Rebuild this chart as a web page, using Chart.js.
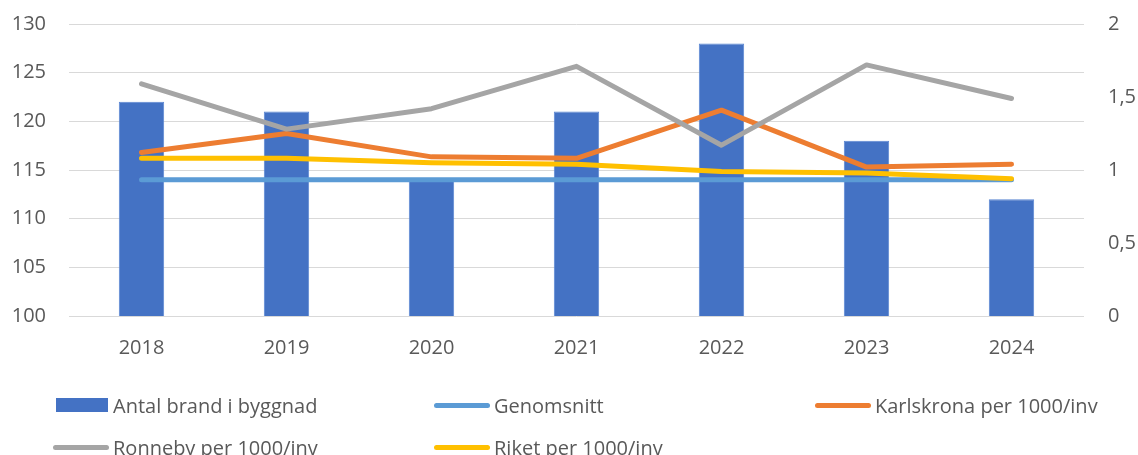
<!DOCTYPE html>
<html>
<head>
<meta charset="utf-8">
<script src="https://cdn.jsdelivr.net/npm/chart.js@4/dist/chart.umd.min.js"></script>
<style>
  html, body { margin: 0; padding: 0; background: #fff; }
  #wrap { position: relative; width: 1138px; height: 455px; overflow: hidden; }
  #box { position: absolute; left: 0; top: 0; width: 1138px; height: 370px; }
  #legend { position: absolute; left: 0; top: 0; width: 1138px; height: 455px; pointer-events: none;
            font-family: "Open Sans", sans-serif; font-size: 20px; color: #595959; }
  .item { position: absolute; display: flex; align-items: center; height: 26px; white-space: nowrap; }
  .mark { display: inline-block; width: 56px; margin-right: 4px; }
  .mark.line { height: 5px; border-radius: 3px; }
  .mark.bar { height: 14px; width: 52px; margin-left: 0; margin-right: 5px; }
</style>
</head>
<body>
<div id="wrap">
  <div id="box"><canvas id="c"></canvas></div>
  <div id="legend"></div>
</div>
<script>
// Years on the category axis
const years = ['2018', '2019', '2020', '2021', '2022', '2023', '2024'];

// Number of building fires (left axis)
const antalBrand = [122, 121, 114, 121, 128, 118, 112];
// Average level (left axis)
const genomsnitt = [114, 114, 114, 114, 114, 114, 114];

// Rates per 1000 inhabitants (right axis)
const karlskrona = [1.12, 1.25, 1.09, 1.08, 1.41, 1.02, 1.04];
const ronneby    = [1.59, 1.28, 1.42, 1.71, 1.17, 1.72, 1.49];
const riket      = [1.08, 1.08, 1.05, 1.04, 0.99, 0.98, 0.94];

// Axis tick values
const leftTicks  = [100, 105, 110, 115, 120, 125, 130];
const rightTicks = [0, 0.5, 1, 1.5, 2];

const colors = {
  bar: '#4472C4',
  genomsnitt: '#5B9BD5',
  karlskrona: '#ED7D31',
  ronneby: '#A5A5A5',
  riket: '#FFC000'
};

const tickFont = { family: '"Open Sans", sans-serif', size: 20 };
const tickColor = '#595959';
const gridColor = '#D9D9D9';

function lineSet(label, data, color, axis, order) {
  return {
    type: 'line', label, data, yAxisID: axis, order,
    borderColor: color, backgroundColor: color,
    borderWidth: 5, pointRadius: 0, pointHoverRadius: 0,
    borderCapStyle: 'round', borderJoinStyle: 'round',
    tension: 0, fill: false
  };
}

const datasets = [
  {
    type: 'bar', label: 'Antal brand i byggnad', data: antalBrand, yAxisID: 'y', order: 5,
    backgroundColor: colors.bar, borderColor: '#5A86D2', borderWidth: 1,
    barPercentage: 0.313, categoryPercentage: 1
  },
  lineSet('Genomsnitt', genomsnitt, colors.genomsnitt, 'y', 4),
  lineSet('Karlskrona per 1000/inv', karlskrona, colors.karlskrona, 'y1', 3),
  lineSet('Ronneby per 1000/inv', ronneby, colors.ronneby, 'y1', 2),
  lineSet('Riket per 1000/inv', riket, colors.riket, 'y1', 1)
];

// Fixed axis widths; vertical label overhang is handled by the layout padding
function fitVertical(width) {
  return s => { s.width = width; s.paddingTop = 0; s.paddingBottom = 0; };
}

new Chart(document.getElementById('c'), {
  data: { labels: years, datasets },
  options: {
    responsive: true,
    maintainAspectRatio: false,
    animation: false,
    layout: { padding: { top: 24, left: 0, right: 0, bottom: 0 } },
    plugins: { legend: { display: false }, tooltip: { enabled: false } },
    scales: {
      x: {
        grid: { display: false, drawTicks: false },
        border: { display: false },
        ticks: { font: tickFont, color: tickColor, padding: 20, maxRotation: 0 },
        afterFit: s => { s.height = 54; }
      },
      y: {
        position: 'left',
        min: leftTicks[0], max: leftTicks[leftTicks.length - 1],
        afterBuildTicks: s => { s.ticks = leftTicks.map(v => ({ value: v })); },
        grid: { color: gridColor, lineWidth: 1, drawTicks: false },
        border: { display: false },
        ticks: { font: tickFont, color: tickColor, padding: 23 },
        afterFit: fitVertical(69)
      },
      y1: {
        position: 'right',
        min: rightTicks[0], max: rightTicks[rightTicks.length - 1],
        afterBuildTicks: s => { s.ticks = rightTicks.map(v => ({ value: v })); },
        grid: { display: false, drawTicks: false },
        border: { display: false },
        ticks: {
          font: tickFont, color: tickColor, padding: 24,
          callback: v => String(v).replace('.', ',')
        },
        afterFit: fitVertical(54)
      }
    }
  }
});

// Legend below the chart, laid out in three columns
const legendItems = [
  { label: 'Antal brand i byggnad', color: colors.bar, kind: 'bar', col: 0, row: 0 },
  { label: 'Genomsnitt', color: colors.genomsnitt, kind: 'line', col: 1, row: 0 },
  { label: 'Karlskrona per 1000/inv', color: colors.karlskrona, kind: 'line', col: 2, row: 0 },
  { label: 'Ronneby per 1000/inv', color: colors.ronneby, kind: 'line', col: 0, row: 1 },
  { label: 'Riket per 1000/inv', color: colors.riket, kind: 'line', col: 1, row: 1 }
];
const colX = [53, 434, 815];
const rowY = [392, 434];
const legendEl = document.getElementById('legend');
legendItems.forEach(it => {
  const d = document.createElement('div');
  d.className = 'item';
  d.style.left = (it.kind === 'bar' ? colX[it.col] + 3 : colX[it.col]) + 'px';
  d.style.top = rowY[it.row] + 'px';
  const m = document.createElement('span');
  m.className = 'mark ' + it.kind;
  m.style.background = it.color;
  const t = document.createElement('span');
  t.textContent = it.label;
  d.appendChild(m);
  d.appendChild(t);
  legendEl.appendChild(d);
});
</script>
</body>
</html>
